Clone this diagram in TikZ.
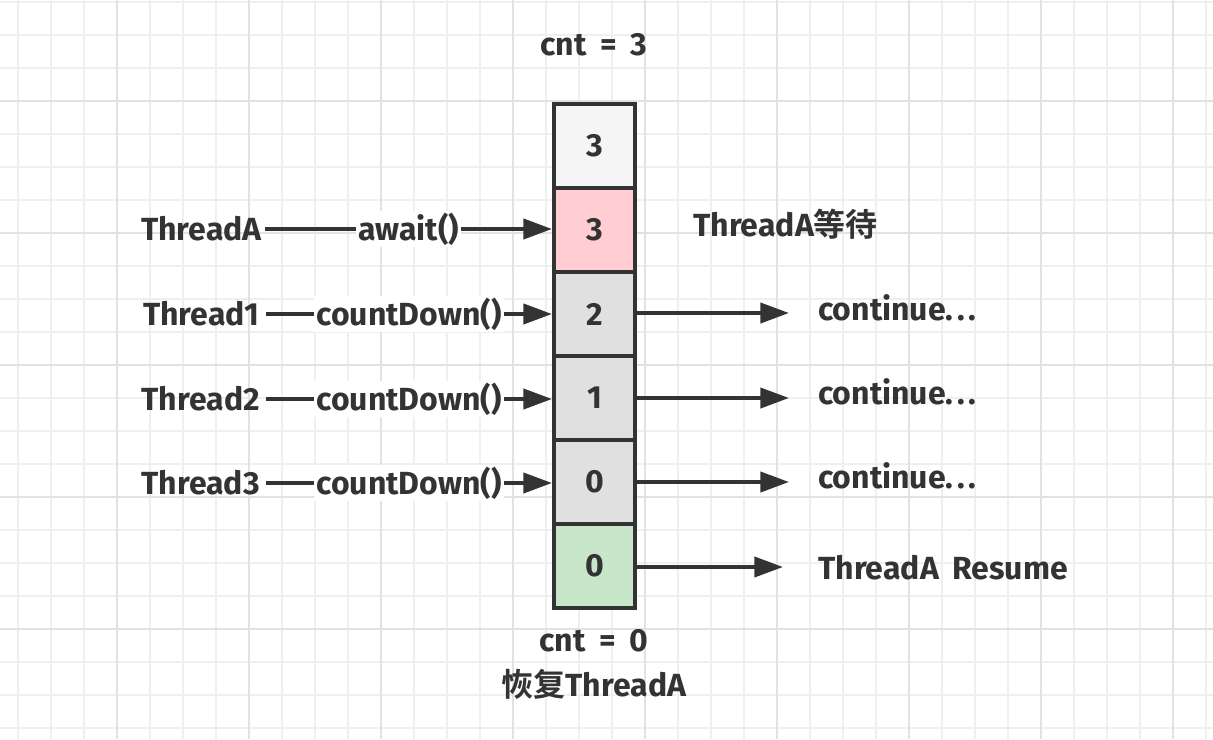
\documentclass[tikz,border=0pt]{standalone}
\usepackage{fontspec}
\setmainfont{Fira Sans}[WordSpace=1.8]
\newfontfamily\cjk{Noto Sans CJK SC}[BoldFont={Noto Sans CJK SC Bold}]
\usetikzlibrary{arrows.meta}
\definecolor{ink}{HTML}{333333}
\definecolor{gridminor}{HTML}{EFEFEF}
\definecolor{gridmajor}{HTML}{E2E2E2}
\definecolor{celltop}{HTML}{F5F5F5}
\definecolor{cellpink}{HTML}{FFCDD2}
\definecolor{cellgrey}{HTML}{E0E0E0}
\definecolor{cellgreen}{HTML}{C8E6C9}
\newcommand{\dotsx}{.\kern3pt.\kern3pt.}
\tikzset{
  txt/.style={text=ink,font=\fontsize{24}{28}\selectfont\bfseries,inner sep=0pt},
  cell/.style={draw=ink,line width=3pt,minimum width=61.1pt,minimum height=63pt,inner sep=0pt,
    text=ink,font=\fontsize{24}{28}\selectfont\bfseries},
  conn/.style={draw=ink,line width=3pt,-{Triangle[length=21.5pt,width=15pt]}},
  lbl/.style={txt,fill=white,inner sep=1.5pt},
}
\begin{document}
\begin{tikzpicture}[x=0.75pt,y=-0.75pt]
\useasboundingbox (0,0) rectangle (1213,739);
\fill[white] (0,0) rectangle (1213,739);
% grid
\foreach \k in {0,...,36} \draw[gridminor,line width=1.2pt] ({18+33*\k},0) -- ({18+33*\k},739);
\foreach \k in {0,...,22} \draw[gridminor,line width=1.2pt] (0,{2+33*\k}) -- (1213,{2+33*\k});
\foreach \k in {3,7,...,35} \draw[gridmajor,line width=1.2pt] ({18+33*\k},0) -- ({18+33*\k},739);
\foreach \k in {3,7,...,19} \draw[gridmajor,line width=1.2pt] (0,{2+33*\k}) -- (1213,{2+33*\k});

% cells
\node[cell,fill=celltop]   (c1) at (594.75,146) {3};
\node[cell,fill=cellpink]  (c2) at (594.75,230) {3};
\node[cell,fill=cellgrey]  (c3) at (594.75,314) {2};
\node[cell,fill=cellgrey]  (c4) at (594.75,398) {1};
\node[cell,fill=cellgrey]  (c5) at (594.75,482) {0};
\node[cell,fill=cellgreen] (c6) at (594.75,566) {0};

% top / bottom labels
\node[txt] (top) at (594,45) {cnt = 3};
\node[txt] (bot) at (594,641) {cnt = 0};
\node[txt] (bot2) at (594,684) {{\cjk\bfseries 恢复}ThreadA};

% left threads
\node[txt,anchor=east] (tA) at (262,229) {ThreadA};
\node[txt,anchor=east] (t1) at (260,314) {Thread1};
\node[txt,anchor=east] (t2) at (260,399) {Thread2};
\node[txt,anchor=east] (t3) at (260,483) {Thread3};

\draw[conn] (tA.east) ++(3,0) -- node[lbl] (la) {await()} (tA.east -| c2.west);
\draw[conn] (t1.east) ++(6,0) -- node[lbl] (l1) {countDown()} (t1.east -| c3.west);
\draw[conn] (t2.east) ++(6,0) -- node[lbl] (l2) {countDown()} (t2.east -| c4.west);
\draw[conn] (t3.east) ++(6,0) -- node[lbl] (l3) {countDown()} (t3.east -| c5.west);

% right side
\node[txt,anchor=west] (wait) at (693,224) {ThreadA{\cjk\bfseries 等待}};
\node[txt,anchor=west] (k1) at (818,308) {continue\dotsx};
\node[txt,anchor=west] (k2) at (818,392) {continue\dotsx};
\node[txt,anchor=west] (k3) at (818,476) {continue\dotsx};
\node[txt,anchor=west] (res) at (818,568) {ThreadA Resume};

\coordinate (e1) at (789,313);
\coordinate (e2) at (789,398);
\coordinate (e3) at (789,482);
\coordinate (e4) at (783,567);
\draw[conn] (c3.east |- e1) -- (e1);
\draw[conn] (c4.east |- e2) -- (e2);
\draw[conn] (c5.east |- e3) -- (e3);
\draw[conn] (c6.east |- e4) -- (e4);
\end{tikzpicture}
\end{document}
